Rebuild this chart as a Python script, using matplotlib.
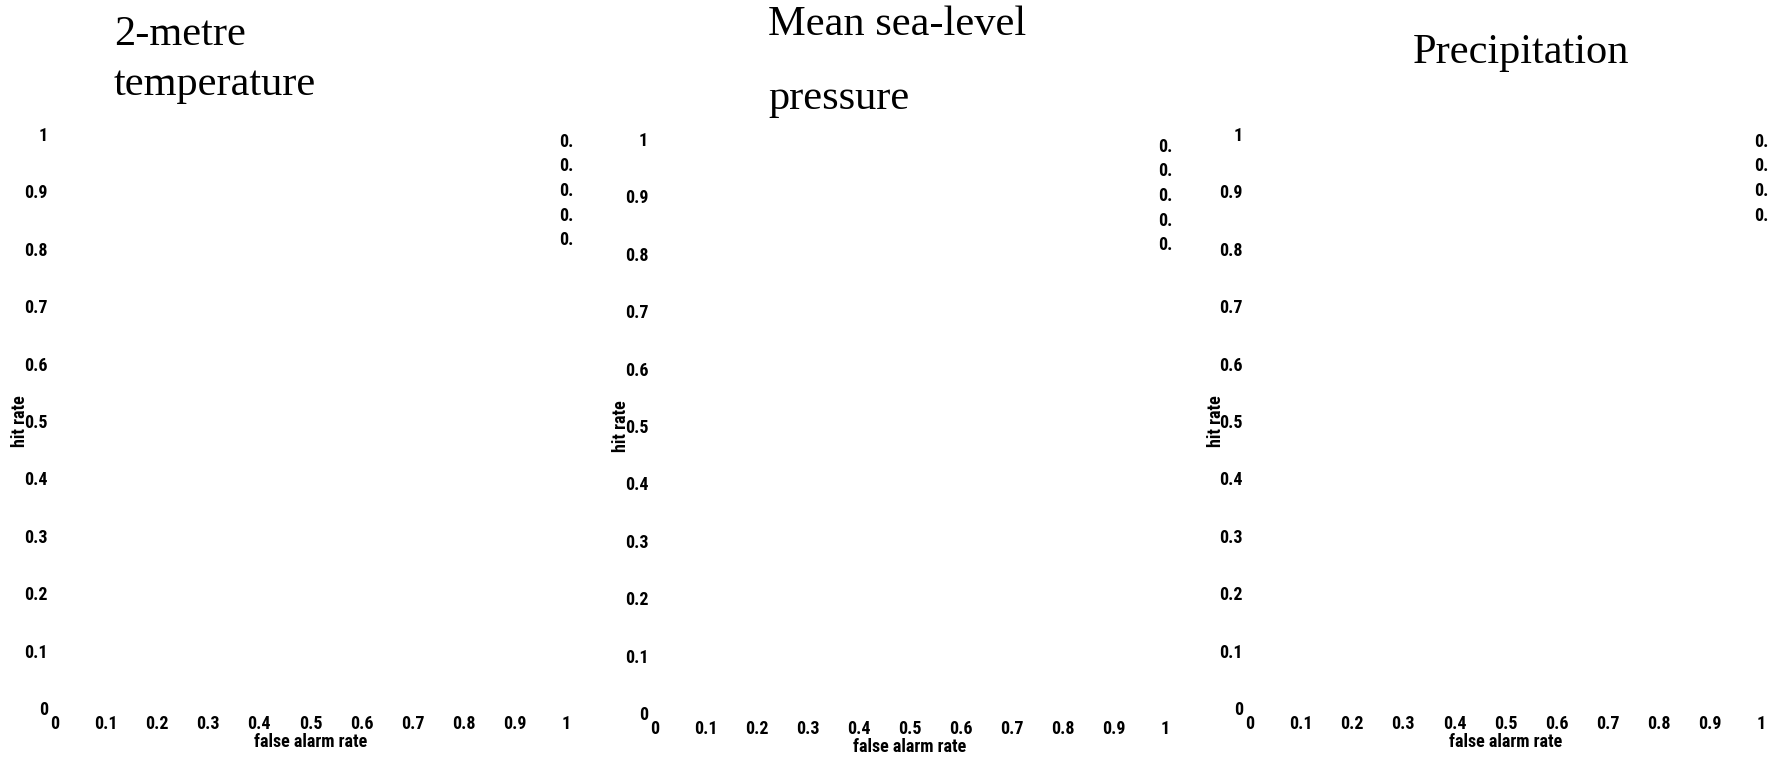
import matplotlib
matplotlib.use("Agg")
import matplotlib.pyplot as plt
import numpy as np

titles = ["2-metre\ntemperature", "Mean sea-level\npressure", "Precipitation"]
xticks = [0, 0.1, 0.2, 0.3, 0.4, 0.5, 0.6, 0.7, 0.8, 0.9, 1]
yticks = [0, 0.1, 0.2, 0.3, 0.4, 0.5, 0.6, 0.7, 0.8, 0.9, 1]
ticklabels = ["0", "0.1", "0.2", "0.3", "0.4", "0.5", "0.6", "0.7", "0.8", "0.9", "1"]
legend_labels = [
    ["0.", "0.", "0.", "0.", "0."],
    ["0.", "0.", "0.", "0.", "0."],
    ["0.", "0.", "0.", "0."],
]

tickfont = dict(family=["Roboto Condensed", "DejaVu Sans"], weight="bold", size=13)
titlefont = dict(family=["Liberation Serif", "DejaVu Serif"], size=30.5)

fig = plt.figure(figsize=(17.83, 7.60), dpi=100)

# axes rectangles in figure fraction
boxes = [
    [0.0308, 0.0684, 0.2866, 0.7553],
    [0.3674, 0.0618, 0.2860, 0.7553],
    [0.7011, 0.0684, 0.2866, 0.7553],
]
# x, y(top), linespacing of each title
title_pos = [(0.064, 0.979, 1.37), (0.431, 0.993, 2.2), (0.7925, 0.956, 1.2)]

for i, box in enumerate(boxes):
    ax = fig.add_axes(box)
    ax.set_xlim(0, 1)
    ax.set_ylim(0, 1)
    for s in ax.spines.values():
        s.set_visible(False)
    ax.tick_params(length=0)
    ax.tick_params(axis="y", pad=5)
    ax.tick_params(axis="x", pad=5)
    ax.set_xticks(xticks)
    ax.set_xticklabels(ticklabels, **tickfont)
    ax.set_yticks(yticks)
    ax.set_yticklabels(ticklabels, **tickfont)
    ax.set_xlabel("false alarm rate", labelpad=0, **tickfont)
    ax.set_ylabel("hit rate", **tickfont)
    ax.yaxis.set_label_coords(-0.05, 0.5)
    ax.patch.set_alpha(0)

    for k, lab in enumerate(legend_labels[i]):
        ax.text(1.0, 1.002 - k * 0.0428, lab, transform=ax.transAxes,
                ha="center", va="top", **tickfont)

    tx, ty, ls = title_pos[i]
    fig.text(tx, ty, titles[i], ha="left", va="top", linespacing=ls, **titlefont)

plt.savefig("out.png", dpi=100)
plt.close(fig)
